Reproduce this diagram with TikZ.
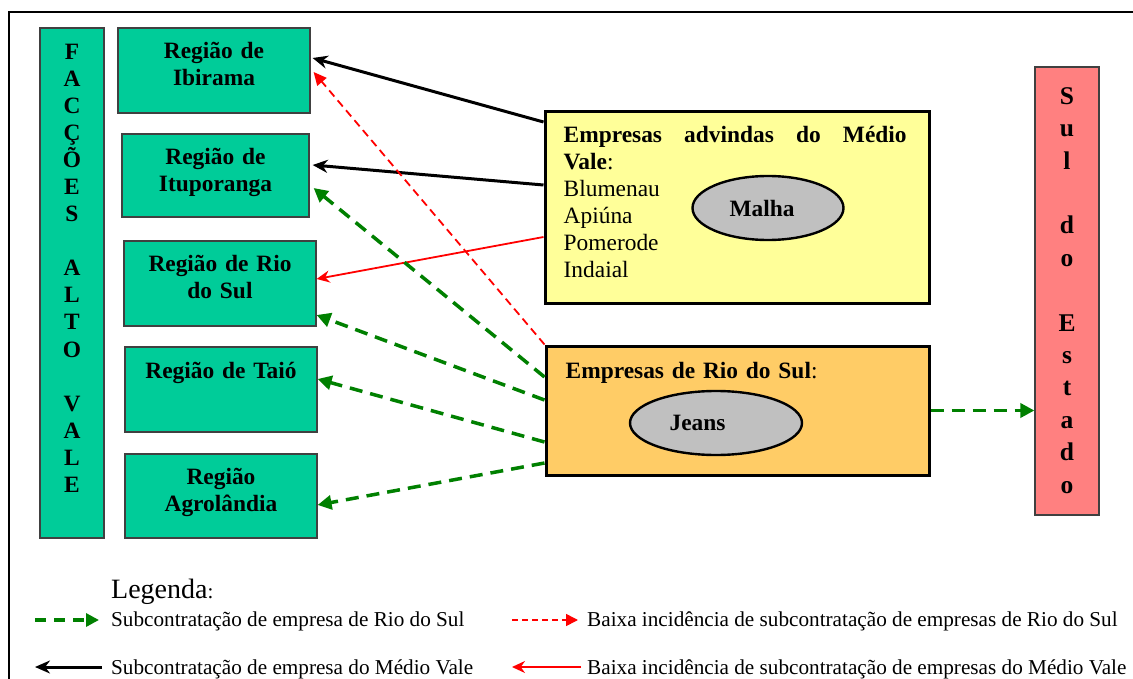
\documentclass[tikz,border=0pt]{standalone}
\usepackage{fontspec}
\setmainfont{Liberation Serif}
\usetikzlibrary{arrows.meta,shapes.geometric,calc}
\definecolor{boxgreen}{HTML}{00CC99}
\definecolor{boxyellow}{HTML}{FFFF99}
\definecolor{boxorange}{HTML}{FFCC66}
\definecolor{boxsalmon}{HTML}{FF8080}
\definecolor{ellgray}{HTML}{C0C0C0}
\definecolor{arrgreen}{HTML}{008000}
\definecolor{arrred}{HTML}{FF0000}
\begin{document}
\begin{tikzpicture}[x=1pt,y=-1pt,
  gbox/.style={draw=black!75, line width=1.2pt, fill=boxgreen, inner sep=0pt},
  bigbox/.style={draw=black, line width=3pt, inner sep=0pt},
  ellnode/.style={ellipse, draw=black, line width=2.4pt, fill=ellgray, inner sep=0pt,
     font={\fontsize{23.4}{27}\selectfont\bfseries}},
  boxtxt/.style={font={\fontsize{23.4}{27}\selectfont\bfseries}, text width=190pt, align=center, inner sep=0pt, anchor=base},
  coltxt/.style={font={\fontsize{23.4}{27.06}\selectfont\bfseries}, text width=60pt, align=center, inner sep=0pt, anchor=base},
  sultxt/.style={font={\fontsize{25.5}{32.4}\selectfont\bfseries}, text width=60pt, align=center, inner sep=0pt, anchor=base},
  bodytxt/.style={font={\fontsize{23.4}{27}\selectfont}, inner sep=0pt, anchor=base west, align=left, text width=350pt},
  legtxt/.style={font={\fontsize{21.2}{24}\selectfont}, inner sep=0pt, anchor=base west},
  blk/.style={draw=black, line width=3pt, -{Stealth[length=15pt,width=13pt]}},
  redsolid/.style={draw=arrred, line width=1.8pt, -{Stealth[length=13pt,width=12pt]}},
  reddash/.style={draw=arrred, line width=1.8pt, dash pattern=on 8pt off 5pt, -{Triangle[length=13pt,width=12pt]}},
  grn/.style={draw=arrgreen, line width=3.5pt, dash pattern=on 13pt off 8pt, -{Triangle[length=14pt,width=14pt]}},
  reddashleg/.style={draw=arrred, line width=1.6pt, dash pattern=on 6pt off 4pt, -{Triangle[length=12pt,width=12pt]}},
  grnleg/.style={draw=arrgreen, line width=3.5pt, dash pattern=on 11pt off 8pt, -{Triangle[length=13pt,width=13pt]}}
]
\useasboundingbox (0,0) rectangle (1133,679);
\fill[white] (0,0) rectangle (1133,679);
% frame (cropped)
\draw[line width=2pt] (9,679) -- (9,12) -- (1133,12);

% left column
\node[gbox, minimum width=64pt, minimum height=510pt] (fac) at (72,283) {};
\node[coltxt] (fact) at ([yshift=-32pt]fac.north) {F\\A\\C\\Ç\\Õ\\E\\S\\[27.06pt]A\\L\\T\\O\\[27.06pt]V\\A\\L\\E};

% region boxes
\node[gbox, minimum width=192pt, minimum height=85pt] (ibi) at (214,70.5) {};
\node[gbox, minimum width=187pt, minimum height=83pt] (itu) at (215.5,175.5) {};
\node[gbox, minimum width=192pt, minimum height=85pt] (rio) at (220,283.5) {};
\node[gbox, minimum width=192pt, minimum height=85pt] (tai) at (221,389.5) {};
\node[gbox, minimum width=192pt, minimum height=84pt] (agr) at (221,496) {};
\node[boxtxt] (ibit) at ([yshift=-31pt]ibi.north) {Região de\\Ibirama};
\node[boxtxt] (itut) at ([yshift=-31pt]itu.north) {Região de\\Ituporanga};
\node[boxtxt] (riot) at ([yshift=-31pt]rio.north) {Região de Rio\\do Sul};
\node[boxtxt] (tait) at ([yshift=-32pt]tai.north) {Região de Taió};
\node[boxtxt] (agrt) at ([yshift=-31pt]agr.north) {Região\\Agrolândia};

% yellow box
\node[bigbox, fill=boxyellow, minimum width=384pt, minimum height=191pt] (yel) at (737,207.5) {};
\node[bodytxt] (yelt) at ([xshift=20pt,yshift=-32pt]yel.north west)
  {\makebox[343pt][l]{\bfseries Empresas\hfill advindas\hfill do\hfill Médio}\\{\bfseries Vale}:\\Blumenau\\Apiúna\\Pomerode\\Indaial};
\node[ellnode, minimum width=151pt, minimum height=64pt] (malha) at (768,208) {Malha\hspace*{12pt}};

% orange box
\node[bigbox, fill=boxorange, minimum width=383pt, minimum height=129pt] (ora) at (737.5,410.5) {};
\node[bodytxt] (orat) at ([xshift=21pt,yshift=-34pt]ora.north west) {{\bfseries Empresas de Rio do Sul}:};
\node[ellnode, minimum width=172pt, minimum height=64pt] (jeans) at (716,423) {Jeans\hspace*{37pt}};

% right column
\node[gbox, fill=boxsalmon, minimum width=64pt, minimum height=448pt] (sul) at (1067,291) {};
\node[sultxt] (sult) at ([yshift=-38pt]sul.north) {S\\u\\l\\[32.4pt]d\\o\\[32.4pt]E\\s\\t\\a\\d\\o};

% connectors
\draw[blk] ([yshift=85.5pt]yel.west) -- ([xshift=2pt,yshift=12.5pt]ibi.east);
\draw[blk] ([yshift=22.5pt]yel.west) -- ([xshift=3pt,yshift=10.5pt]itu.east);
\draw[redsolid] ([yshift=-29.5pt]yel.west) -- ([xshift=0pt,yshift=4.5pt]rio.east);
\draw[reddash] (ora.north west) -- ([xshift=3pt,yshift=-1.5pt]ibi.east);
\draw[grn] ([yshift=33.5pt]ora.west) -- ([xshift=4pt,yshift=-12.5pt]itu.east);
\draw[grn] ([yshift=10.5pt]ora.west) -- ([yshift=-31.5pt]rio.east);
\draw[grn] ([yshift=-31.5pt]ora.west) -- ([yshift=10.5pt]tai.east);
\draw[grn] ([yshift=-52.5pt]ora.west) -- ([yshift=-9pt]agr.east);
\draw[grn] (ora.east) -- (ora.east -| sul.west);

% legend
\node[font={\fontsize{28}{30}\selectfont}, inner sep=0pt, anchor=base west] (legt) at (111,598)
  {Legenda{\fontsize{21}{24}\selectfont:}};
\coordinate (l1a) at (35,620);  \coordinate (l1b) at (99,620);
\coordinate (l2a) at (512,620); \coordinate (l2b) at (578,620);
\coordinate (l3a) at (102,667); \coordinate (l3b) at (35,667);
\coordinate (l4a) at (581,667); \coordinate (l4b) at (512,667);
\draw[grnleg] (l1a) -- (l1b);
\draw[reddashleg] (l2a) -- (l2b);
\draw[draw=black, line width=3pt, -{Stealth[length=15pt,width=13pt]}] (l3a) -- (l3b);
\draw[redsolid] (l4a) -- (l4b);
\node[legtxt] (leg1) at (111,626) {Subcontratação de empresa de Rio do Sul};
\node[legtxt] (leg2) at (587,626) {Baixa incidência de subcontratação de empresas de Rio do Sul};
\node[legtxt] (leg3) at (111,674) {Subcontratação de empresa do Médio Vale};
\node[legtxt] (leg4) at (587,674) {Baixa incidência de subcontratação de empresas do Médio Vale};
\end{tikzpicture}
\end{document}
